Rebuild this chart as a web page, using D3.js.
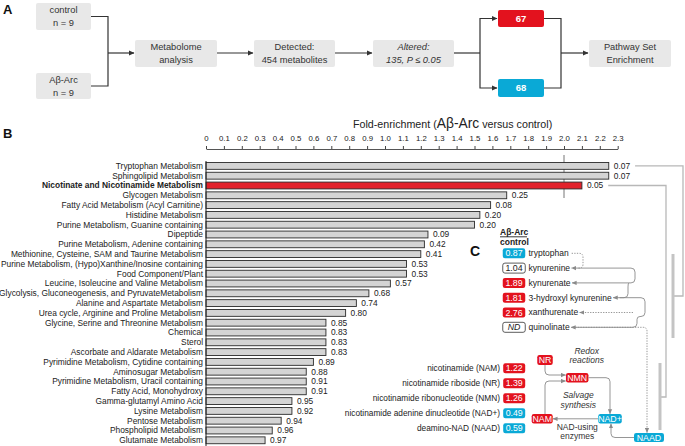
<!DOCTYPE html>
<html><head><meta charset="utf-8">
<script src="https://cdn.jsdelivr.net/npm/d3@7"></script>
<style>body{margin:0;background:#fff} svg{display:block;font-family:"Liberation Sans",Arial,sans-serif}</style>
</head><body><svg id="c" width="685" height="446"></svg>
<script>
// ---------- DATA ----------
const categories = [
  "Tryptophan Metabolism","Sphingolipid Metabolism","Nicotinate and Nicotinamide Metabolism",
  "Glycogen Metabolism","Fatty Acid Metabolism (Acyl Carnitine)","Histidine Metabolism",
  "Purine Metabolism, Guanine containing","Dipeptide","Purine Metabolism, Adenine containing",
  "Methionine, Cysteine, SAM and Taurine Metabolism","Purine Metabolism, (Hypo)Xanthine/Inosine containing",
  "Food Component/Plant","Leucine, Isoleucine and Valine Metabolism",
  "Glycolysis, Gluconeogenesis, and PyruvateMetabolism","Alanine and Aspartate Metabolism",
  "Urea cycle, Arginine and Proline Metabolism","Glycine, Serine and Threonine Metabolism",
  "Chemical","Sterol","Ascorbate and Aldarate Metabolism","Pyrimidine Metabolism, Cytidine containing",
  "Aminosugar Metabolism","Pyrimidine Metabolism, Uracil containing","Fatty Acid, Monohydroxy",
  "Gamma-glutamyl Amino Acid","Lysine Metabolism","Pentose Metabolism","Phospholipid Metabolism",
  "Glutamate Metabolism"
];
const foldValues = [2.25,2.25,2.10,1.68,1.59,1.53,1.50,1.24,1.22,1.20,1.12,1.12,1.03,0.91,0.84,0.78,
  0.67,0.67,0.67,0.67,0.60,0.56,0.56,0.56,0.48,0.48,0.42,0.37,0.33];
const pValues = ["0.07","0.07","0.05","0.25","0.08","0.20","0.20","0.09","0.42","0.41","0.53","0.53",
  "0.57","0.68","0.74","0.80","0.85","0.83","0.83","0.83","0.89","0.88","0.91","0.91","0.95","0.92",
  "0.94","0.96","0.97"];
const highlighted = "Nicotinate and Nicotinamide Metabolism";
const tickLabels = ["0","0.1","0.2","0.3","0.4","0.5","0.6","0.7","0.8","0.9","1.0","1.1","1.2","1.3",
  "1.4","1.5","1.6","1.7","1.8","1.9","2.0","2.1","2.2","2.3"];
const refValue = 2.0;

const kynNames = ["tryptophan","kynurenine","kynurenate","3-hydroxyl kynurenine","xanthurenate","quinolinate"];
const kynValues = ["0.87","1.04","1.89","1.81","2.76","ND"];
const kynStatus = ["down","ns","up","up","up","nd"];

const nadNames = ["nicotinamide (NAM)","nicotinamide riboside (NR)","nicotinamide ribonucleotide (NMN)",
  "nicotinamide adenine dinucleotide (NAD+)","deamino-NAD (NAAD)"];
const nadValues = ["1.22","1.39","1.26","0.49","0.59"];
const nadStatus = ["up","up","up","down","down"];

const groupLabels = ["control","Aβ-Arc"];
const groupN = ["n = 9","n = 9"];
const detectedCount = 454;
const alteredCount = 135;
const upCount = 67, downCount = 68;

// ---------- STYLE ----------
const RED = "#e3121e", BLUE = "#0aa9d6", BAR_RED = "#e2222b", GRAY_FILL = "#d4d4d4";
const svg = d3.select("#c");
const defs = svg.append("defs");
function marker(id, color, size){
  defs.append("marker").attr("id", id).attr("viewBox","0 0 6 6").attr("refX",5.5).attr("refY",3)
    .attr("markerUnits","userSpaceOnUse").attr("markerWidth",size).attr("markerHeight",size)
    .attr("orient","auto").append("path").attr("d","M0,0.4L6,3L0,5.6z").attr("fill",color);
}
marker("arrD","#333",6);
marker("arrG","#8a8a8a",5);

// ---------- PANEL LETTERS ----------
function letter(t,x,y,s){ svg.append("text").attr("x",x).attr("y",y).attr("font-size",s).attr("font-weight","bold").attr("fill","#111").text(t); }
letter("A",3,14,13); letter("B",3,138,13); letter("C",470,256,14);

// ---------- PANEL A: flowchart ----------
const fa = svg.append("g");
function fbox(x,y,w,h,lines,opt={}){
  fa.append("rect").attr("x",x).attr("y",y).attr("width",w).attr("height",h).attr("rx",2)
    .attr("fill",opt.fill||"#e8e8e8");
  const n = lines.length;
  lines.forEach((l,i)=>{
    fa.append("text").attr("x",x+w/2).attr("y",y+h/2+(i-(n-1)/2)*13).attr("dy","0.35em")
      .attr("text-anchor","middle").attr("font-size",opt.size||9.3)
      .attr("font-style",opt.italic?"italic":"normal").attr("font-weight",opt.bold?"bold":"normal")
      .attr("fill",opt.color||"#333").text(l);
  });
}
function fline(d,arrow){ fa.append("path").attr("d",d).attr("fill","none").attr("stroke","#333").attr("stroke-width",1.2)
  .attr("marker-end",arrow?"url(#arrD)":null); }
fbox(36,3,55,27,[groupLabels[0],groupN[0]]);
fbox(36,73,55,26,[groupLabels[1],groupN[1]]);
fbox(135,40,82,27,["Metabolome","analysis"]);
fbox(254,40,81,27,["Detected:",detectedCount+" metabolites"]);
fbox(373,40,81,27,["Altered:",alteredCount+", P ≤ 0.05"],{italic:true});
fbox(498,10,46,17,[String(upCount)],{fill:RED,color:"#fff",bold:true,size:9.5});
fbox(498,79,46,18,[String(downCount)],{fill:BLUE,color:"#fff",bold:true,size:9.5});
fbox(589,40,82,27,["Pathway Set","Enrichment"]);
fline("M91,16.5H108V86H91");
fline("M108,53H134",true);
fline("M217,53H253",true);
fline("M335,53H372",true);
fline("M454,53H480");
fline("M480,53V18.5H497",true);
fline("M480,53V88H497",true);
fline("M544,18.5H561V88H544");
fline("M561,53H588",true);

// ---------- PANEL B: bar chart ----------
const x = d3.scaleLinear().domain([0,2.3]).range([206,206+2.3*179]);
const y = d3.scaleBand().domain(categories).range([161,445.2]).paddingInner(0.3).paddingOuter(0.15);
const bw = y.bandwidth();
const tickValues = tickLabels.map(Number);

const title = svg.append("text").attr("x",353).attr("y",128).attr("fill","#222");
title.append("tspan").attr("font-size",10.7).text("Fold-enrichment (");
title.append("tspan").attr("font-size",13.8).text("Aβ-Arc");
title.append("tspan").attr("font-size",10.7).text(" versus control)");

const ax = svg.append("g").attr("transform","translate(0,149)")
  .call(d3.axisTop(x).tickValues(tickValues).tickFormat((d,i)=>tickLabels[i]).tickSize(3).tickSizeOuter(0).tickPadding(5));
ax.selectAll("text").attr("font-size",7.8).attr("fill","#222").attr("font-family","Liberation Sans, Arial, sans-serif");
ax.selectAll("line").attr("stroke","#444");
ax.select(".domain").attr("stroke","#555");

svg.append("line").attr("x1",x(refValue)).attr("x2",x(refValue)).attr("y1",155).attr("y2",198)
  .attr("stroke","#777").attr("stroke-width",1);

const bars = svg.append("g");
bars.selectAll("rect").data(categories).join("rect")
  .attr("x",x(0)).attr("y",d=>y(d)).attr("width",(d,i)=>x(foldValues[i])-x(0)).attr("height",bw)
  .attr("fill",d=>d===highlighted?BAR_RED:GRAY_FILL).attr("stroke","#2a2a2a").attr("stroke-width",0.9);
svg.append("line").attr("x1",x(0)).attr("x2",x(0)).attr("y1",161).attr("y2",446).attr("stroke","#222").attr("stroke-width",1);

svg.append("g").selectAll("text").data(categories).join("text")
  .attr("x",203).attr("y",d=>y(d)+bw/2).attr("dy","0.35em").attr("text-anchor","end")
  .attr("font-size",8.4).attr("fill","#222").attr("font-weight",d=>d===highlighted?"bold":"normal").text(d=>d);

const pl = svg.append("g").selectAll("text").data(categories).join("text")
  .attr("x",(d,i)=>x(foldValues[i])+5).attr("y",d=>y(d)+bw/2).attr("dy","0.35em")
  .attr("font-size",8.4).attr("fill","#222").text((d,i)=>pValues[i]);

// links from enriched pathways to panel C
const plNodes = pl.nodes();
function linkFrom(i, xr, yb, xb){
  const n = plNodes[i];
  const x0 = +n.getAttribute("x") + n.getComputedTextLength() + 5;
  const yy = y(categories[i]) + bw/2;
  svg.append("path").attr("d",`M${x0},${yy}H${xr}V${yb}H${xb}`).attr("fill","none")
    .attr("stroke","#b8b8b8").attr("stroke-width",1.3);
}
linkFrom(0, 683, 296, 673);
linkFrom(2, 666, 397, 660);
svg.append("line").attr("x1",673).attr("x2",673).attr("y1",254).attr("y2",338).attr("stroke","#c4c4c4").attr("stroke-width",3);
svg.append("line").attr("x1",660).attr("x2",660).attr("y1",363).attr("y2",430).attr("stroke","#c4c4c4").attr("stroke-width",3);

// ---------- PANEL C ----------
const pc = svg.append("g");
pc.append("text").attr("x",500).attr("y",232).attr("dy","0.35em").attr("font-size",8.5).attr("font-weight","bold").attr("fill","#222").text("Aβ-Arc");
pc.append("line").attr("x1",500).attr("x2",527).attr("y1",236.8).attr("y2",236.8).attr("stroke","#222").attr("stroke-width",0.9);
pc.append("text").attr("x",500).attr("y",242).attr("dy","0.35em").attr("font-size",8.5).attr("font-weight","bold").attr("fill","#222").text("control");

function valBox(g,cx,cy,w,h,txt,status){
  const fill = status==="up"?RED:status==="down"?BLUE:"#fff";
  g.append("rect").attr("x",cx-w/2).attr("y",cy-h/2).attr("width",w).attr("height",h).attr("rx",2.2)
    .attr("fill",fill).attr("stroke",(status==="ns"||status==="nd")?"#333":"none").attr("stroke-width",0.8);
  g.append("text").attr("x",cx).attr("y",cy).attr("dy","0.35em").attr("text-anchor","middle")
    .attr("font-size",8.8).attr("font-style",status==="nd"?"italic":"normal")
    .attr("fill",(status==="up"||status==="down")?"#fff":"#222").text(txt);
}
const ky = d3.scalePoint().domain(kynNames).range([253.3,327.3]);
const kEnd = {};
kynNames.forEach((n,i)=>{
  valBox(pc,514,ky(n),22.5,10,kynValues[i],kynStatus[i]);
  const t = pc.append("text").attr("x",528.5).attr("y",ky(n)).attr("dy","0.35em").attr("font-size",8.5).attr("fill","#222").text(n);
  kEnd[n] = 528.5 + t.node().getComputedTextLength();
});
function gpath(d,dotted,arrow=true){
  pc.append("path").attr("d",d).attr("fill","none").attr("stroke","#8a8a8a").attr("stroke-width",0.9)
    .attr("stroke-dasharray",dotted?"1.3,1.3":null).attr("marker-end",arrow?"url(#arrG)":null);
}
const kyY = kynNames.map(n=>ky(n));
gpath(`M${kEnd.tryptophan+3},${kyY[0]}H579Q583,${kyY[0]} 583,${kyY[0]+4}V${kyY[1]-4}Q583,${kyY[1]} 579,${kyY[1]}H${kEnd.kynurenine+1.5}`,true);
gpath(`M${kEnd.kynurenine+7},${kyY[1]}H631Q635,${kyY[1]} 635,${kyY[1]+4}V${kyY[2]-4}Q635,${kyY[2]} 631,${kyY[2]}H${kEnd.kynurenate+1.5}`,false);
gpath(`M629,${kyY[2]}Q628,${kyY[2]} 628,${kyY[2]+4}V${kyY[3]-4}Q628,${kyY[3]} 624,${kyY[3]}H${kEnd["3-hydroxyl kynurenine"]+1.5}`,false);
gpath(`M${kEnd["3-hydroxyl kynurenine"]+8},${kyY[3]}H641Q645,${kyY[3]} 645,${kyY[3]+4}V${kyY[4]}Q645,${kyY[4]+4} 641,${kyY[4]+4}H640Q637,${kyY[4]+4} 637,${kyY[4]+7}V${kyY[5]-4}Q637,${kyY[5]} 633,${kyY[5]}H${kEnd.quinolinate+1.5}`,false);
gpath(`M633,${kyY[4]}H${kEnd.xanthurenate+1.5}`,true);
gpath(`M${kEnd.quinolinate+3},${kyY[5]}H643Q647,${kyY[5]} 647,${kyY[5]+4}V432.5`,true);

// NAD list
const ny = d3.scalePoint().domain(nadNames).range([368.3,428.3]);
nadNames.forEach((n,i)=>{
  pc.append("text").attr("x",500).attr("y",ny(n)).attr("dy","0.35em").attr("text-anchor","end").attr("font-size",8.3).attr("fill","#222").text(n);
  valBox(pc,514.2,ny(n),22,10,nadValues[i],nadStatus[i]);
});
// NAD diagram nodes
function node(cx,cy,w,h,txt,status){ valBox(pc,cx,cy,w,h,txt,status); }
node(545,360,15.5,10,"NR","up");
node(577.2,377.7,22.5,9.5,"NMN","up");
node(542.2,418.8,21,9.5,"NAM","up");
node(610,418.8,23.5,9.5,"NAD+","down");
node(649,437.5,30,9,"NAAD","down");
function note(t,cx,cy,it){ pc.append("text").attr("x",cx).attr("y",cy).attr("dy","0.35em").attr("text-anchor","middle")
  .attr("font-size",8.5).attr("font-style",it?"italic":"normal").attr("fill","#333").text(t); }
note("Redox",586.7,350.7,true); note("reactions",586.7,360.3,true);
note("Salvage",578.3,395,true); note("synthesis",578.3,405,true);
note("NAD-using",577.3,426.7,false); note("enzymes",577.3,436.3,false);
gpath("M545,365V371Q545,375 549,375H565.5",false);
gpath("M545,414V385Q545,381 549,381H565.5",false);
gpath("M588.5,377.7H606Q610,377.7 610,381.7V413.8",false);
gpath("M598,418.8H553",false);
gpath("M634,437.5H615Q611,437.5 611,433.5V423.8",false);
</script></body></html>
